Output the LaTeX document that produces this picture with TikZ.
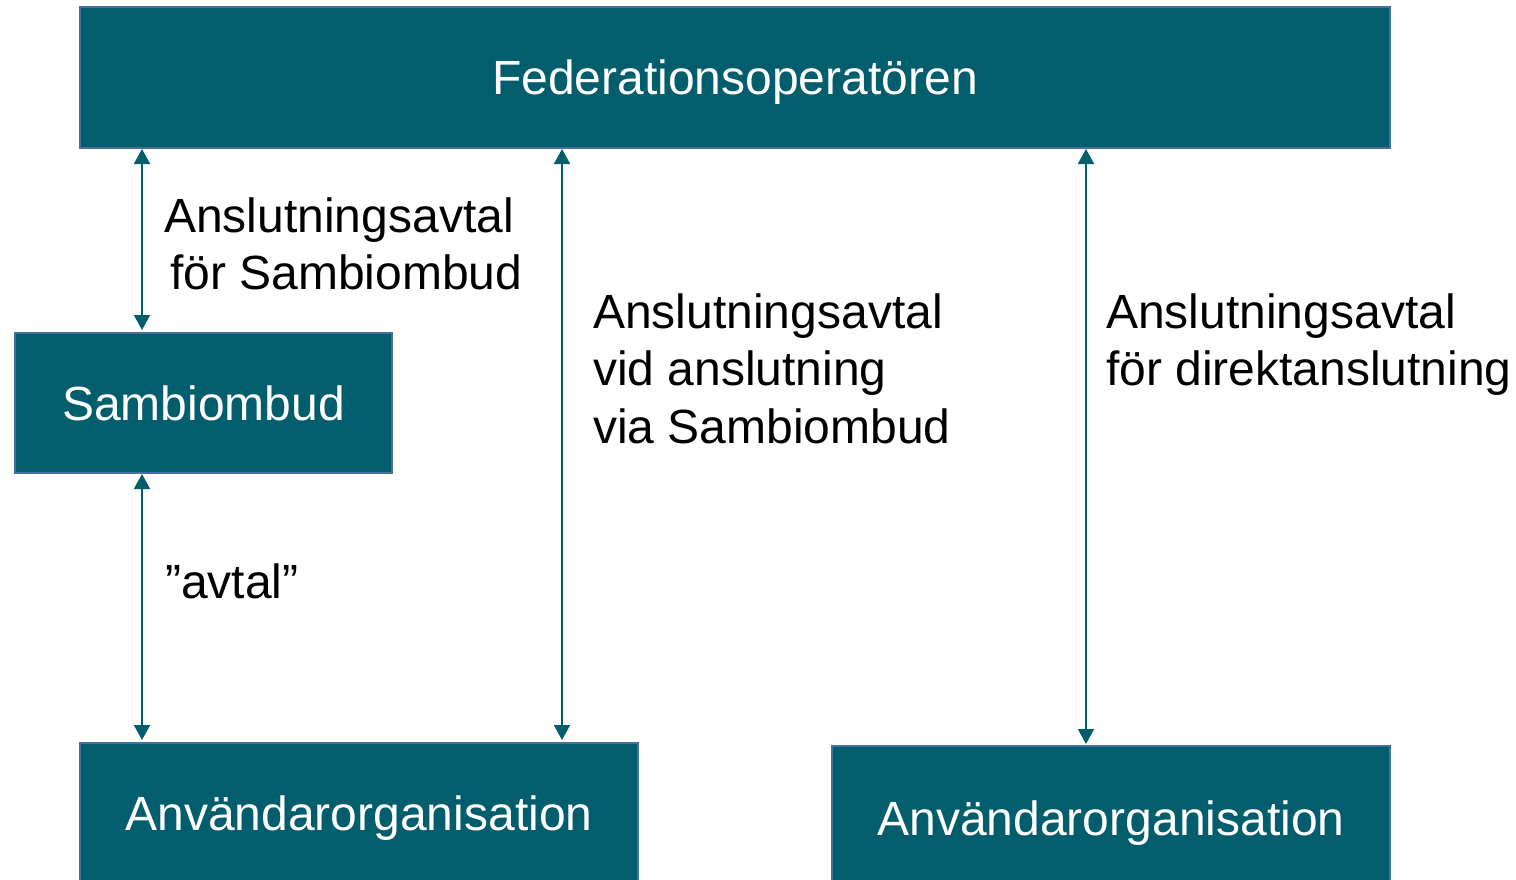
\documentclass[tikz,border=0pt]{standalone}
\usepackage{fontspec}
\setmainfont{Liberation Sans}
\usetikzlibrary{arrows.meta}
\definecolor{boxfill}{HTML}{025E6C}
\definecolor{boxline}{HTML}{45709C}
\begin{document}
\begin{tikzpicture}[x=1pt,y=-1pt,
  box/.style={draw=boxline,line width=2.5pt,fill=boxfill,text=white,
    font=\fontsize{48}{57.5}\selectfont,inner sep=0pt,outer sep=0pt,
    text height=34pt,text depth=0pt,anchor=center},
  arr/.style={draw=boxfill,line width=1.8pt,
    {Triangle[width=16pt,length=15pt]}-{Triangle[width=16pt,length=15pt]}},
  lbl/.style={font=\fontsize{48}{57.5}\selectfont,inner sep=0pt,
    align=left,anchor=base west,text=black}]
\useasboundingbox (0,0) rectangle (1516,879);
\clip (0,0) rectangle (1516,879);
\fill[white] (0,0) rectangle (1516,879);
% boxes
\node[box,minimum width=1310pt,minimum height=141pt] (fed) at (735,77.5) {Federationsoperatören};
\node[box,minimum width=377pt,minimum height=140pt] (samb) at (203.5,403) {Sambiombud};
\node[box,minimum width=558pt,minimum height=140pt] (anv1) at (359,813) {Användarorganisation};
\node[box,minimum width=558pt,minimum height=144pt] (anv2) at (1111,818) {Användarorganisation};
% arrow columns
\coordinate (c1) at (142,0);
\coordinate (c2) at (562,0);
\coordinate (c3) at (1086,0);
\draw[arr,shorten <=1pt,shorten >=3pt] (fed.south -| c1) -- (samb.north -| c1);
\draw[arr,shorten <=1pt,shorten >=3pt] (samb.south -| c1) -- (anv1.north -| c1);
\draw[arr,shorten <=1pt,shorten >=3pt] (fed.south -| c2) -- (anv1.north -| c2);
\draw[arr,shorten <=1pt,shorten >=2pt] (fed.south -| c3) -- (anv2.north -| c3);
% labels (base anchor = baseline of the last line)
\node[lbl] (l1) at (164,289.5) {Anslutningsavtal\\\hspace*{6pt}för Sambiombud};
\node[lbl] (l2) at (593,443) {Anslutningsavtal\\vid anslutning\\via Sambiombud};
\node[lbl] (l3) at (1106,385.5) {Anslutningsavtal\\för direktanslutning};
\node[lbl] (l4) at (165,598) {”avtal”};
\end{tikzpicture}
\end{document}
